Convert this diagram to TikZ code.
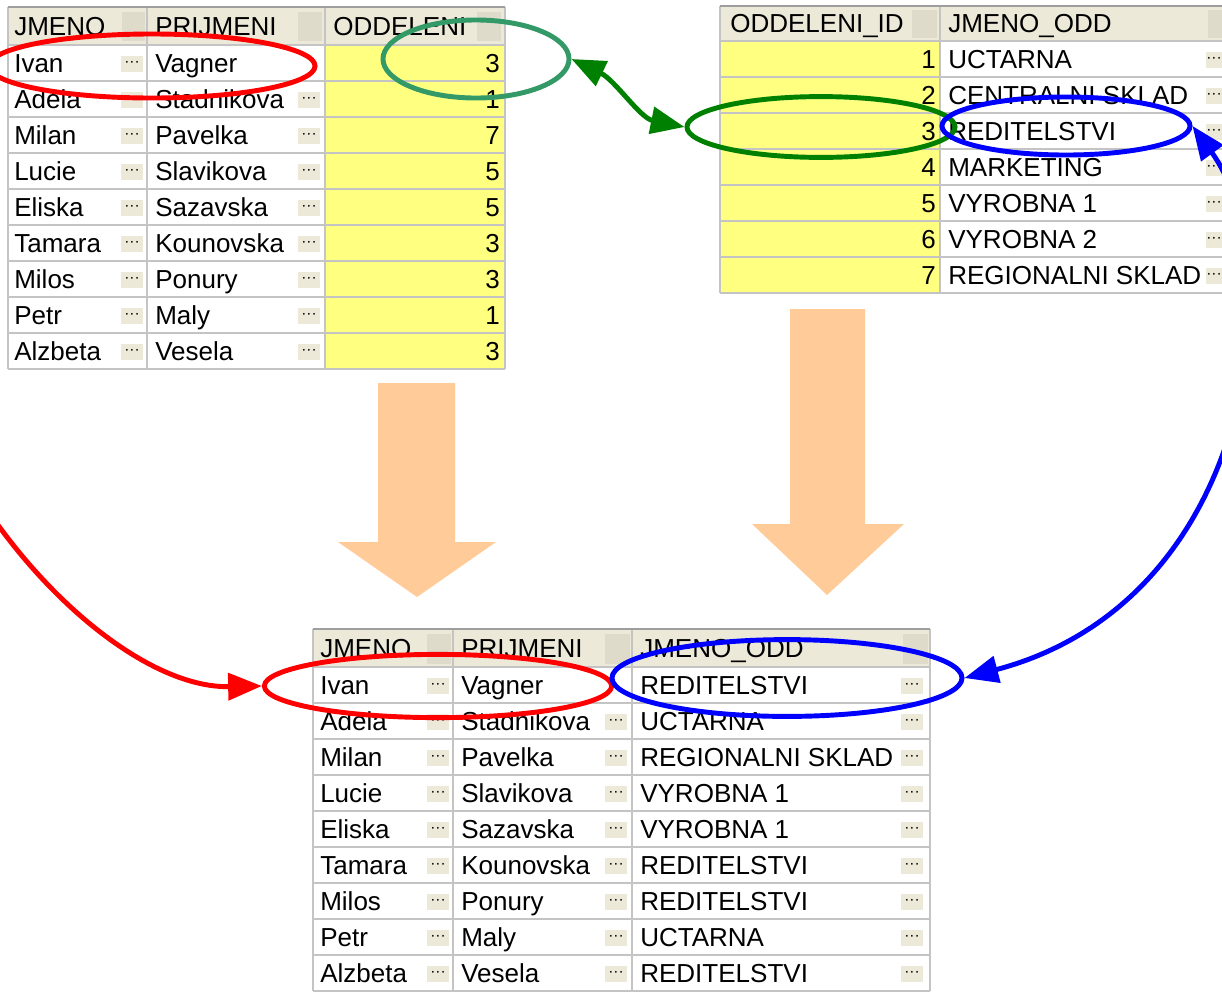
\documentclass[tikz,border=0pt]{standalone}
\usepackage{fontspec}
\setmainfont{Liberation Sans}
\usetikzlibrary{arrows.meta,shapes.geometric}

\definecolor{hlava}{HTML}{ECE9D8}
\definecolor{hlavatm}{HTML}{DEDBCB}
\definecolor{mrizka}{HTML}{C4C4C4}
\definecolor{hrana}{HTML}{9E9E9E}
\definecolor{zluta}{HTML}{FFFF80}
\definecolor{broskev}{HTML}{FFCC99}
\definecolor{cervena}{HTML}{FF0000}
\definecolor{modra}{HTML}{0000FF}
\definecolor{zelena}{HTML}{008000}
\definecolor{tyrkys}{HTML}{339966}

\tikzset{
  cell/.style={anchor=base west, inner sep=0pt, font=\fontsize{18.5}{20}\selectfont},
  num/.style={anchor=base east, inner sep=0pt, font=\fontsize{18.5}{20}\selectfont},
  btn/.style={fill=hlava, inner sep=0pt, minimum width=0.55cm, minimum height=0.42cm,
    font=\fontsize{11}{11}\selectfont},
  razeni/.style={fill=hlavatm},
  gridline/.style={draw=mrizka, line width=1pt},
  oval/.style={ellipse, draw, line width=3.5pt, inner sep=0pt},
  link/.style={line width=3.5pt}
}

\begin{document}
\begin{tikzpicture}[x=0.025cm, y=-0.025cm, >={Triangle[length=24pt,width=19pt]}]

    \useasboundingbox (0,0) rectangle (1222,994);
    \fill[white] (0,0) rectangle (1222,994);
    \clip (0,0) rectangle (1222,994);

    % Tabulka zamestnancu
    \fill[hlava] (8,7) rectangle (505,45);
    \fill[zluta] (325,45) rectangle (505,369);
    \fill[razeni] (122,12) rectangle (145,41);
    \fill[razeni] (298,12) rectangle (322,41);
    \fill[razeni] (477,12) rectangle (501,41);
    \foreach \y in {45,81,...,369} \draw[gridline] (8,\y) -- (505,\y);
    \foreach \x in {8,147,325,505} \draw[gridline] (\x,7) -- (\x,369);
    \draw[hrana, line width=1.5pt] (8,7) -- (505,7);
    \node[cell] (h1a) at (14,35.5) {JMENO};
    \node[cell] (h1b) at (155,35.5) {PRIJMENI};
    \node[cell] (h1c) at (333,35.5) {ODDELENI};
    \foreach \jm/\pr/\od [count=\i] in {Ivan/Vagner/3, Adela/Stadnikova/1, Milan/Pavelka/7,
        Lucie/Slavikova/5, Eliska/Sazavska/5, Tamara/Kounovska/3, Milos/Ponury/3,
        Petr/Maly/1, Alzbeta/Vesela/3} {
      \node[cell] (t1-\i-a) at (14,36.5+36*\i) {\jm};
      \node[cell] (t1-\i-b) at (155,36.5+36*\i) {\pr};
      \node[num] (t1-\i-c) at (500,36.5+36*\i) {\od};
      \node[btn] (t1-\i-ba) at (132,28+36*\i) {···};
      \ifnum\i>1 \node[btn] (t1-\i-bb) at (309,28+36*\i) {···}; \fi
    }

    % Tabulka oddeleni
    \fill[hlava] (720,6) rectangle (1240,41);
    \fill[zluta] (720,41) rectangle (940,293);
    \fill[razeni] (912,10) rectangle (937,38);
    \fill[razeni] (1208,10) rectangle (1240,38);
    \foreach \y in {41,77,...,293} \draw[gridline] (720,\y) -- (1240,\y);
    \foreach \x in {720,940} \draw[gridline] (\x,6) -- (\x,293);
    \draw[hrana, line width=1.5pt] (720,6) -- (1240,6);
    \node[cell] (h2a) at (730,32.5) {ODDELENI\_ID};
    \node[cell] (h2b) at (948,32.5) {JMENO\_ODD};
    \foreach \id/\odd in {1/UCTARNA, 2/CENTRALNI SKLAD, 3/REDITELSTVI, 4/MARKETING,
        5/VYROBNA 1, 6/VYROBNA 2, 7/REGIONALNI SKLAD} {
      \node[num] (t2-\id-a) at (936,32.5+36*\id) {\id};
      \node[cell] (t2-\id-b) at (948,32.5+36*\id) {\odd};
      \node[btn, minimum width=0.4cm] (t2-\id-bb) at (1214,24+36*\id) {···};
    }

    % Vysledek spojeni
    \fill[hlava] (313,629) rectangle (930,667);
    \fill[razeni] (427,634) rectangle (451,664);
    \fill[razeni] (605,634) rectangle (630,664);
    \fill[razeni] (903,634) rectangle (928,664);
    \foreach \y in {667,703,...,991} \draw[gridline] (313,\y) -- (930,\y);
    \foreach \x in {313,453,632,930} \draw[gridline] (\x,629) -- (\x,991);
    \draw[hrana, line width=1.5pt] (313,629) -- (930,629);
    \node[cell] (h3a) at (320,657.5) {JMENO};
    \node[cell] (h3b) at (461,657.5) {PRIJMENI};
    \node[cell] (h3c) at (640,657.5) {JMENO\_ODD};
    \foreach \jm/\pr/\odd [count=\i] in {Ivan/Vagner/REDITELSTVI, Adela/Stadnikova/UCTARNA,
        Milan/Pavelka/REGIONALNI SKLAD, Lucie/Slavikova/VYROBNA 1, Eliska/Sazavska/VYROBNA 1,
        Tamara/Kounovska/REDITELSTVI, Milos/Ponury/REDITELSTVI, Petr/Maly/UCTARNA,
        Alzbeta/Vesela/REDITELSTVI} {
      \node[cell] (t3-\i-a) at (320,658.5+36*\i) {\jm};
      \node[cell] (t3-\i-b) at (461,658.5+36*\i) {\pr};
      \node[cell] (t3-\i-c) at (640,658.5+36*\i) {\odd};
      \node[btn] (t3-\i-ba) at (438,650+36*\i) {···};
      \ifnum\i>1 \node[btn] (t3-\i-bb) at (616,650+36*\i) {···}; \fi
      \node[btn] (t3-\i-bc) at (912,650+36*\i) {···};
    }

    % Velke sipky
    \fill[broskev] (378,383) -- (455,383) -- (455,542) -- (496,542) -- (417,597)
      -- (338,542) -- (378,542) -- cycle;
    \fill[broskev] (790,309) -- (865,309) -- (865,524) -- (904,524) -- (827,595)
      -- (752,524) -- (790,524) -- cycle;

    % Oznaceni
    \node[oval, draw=cervena, minimum width=8.15cm, minimum height=1.6cm] (redTop) at (152,66) {};
    \node[oval, draw=tyrkys, minimum width=4.65cm, minimum height=1.95cm] (tealTop) at (476,59) {};
    \node[oval, draw=zelena, minimum width=6.7cm, minimum height=1.52cm] (greenR) at (821,127) {};
    \node[oval, draw=modra, minimum width=6.2cm, minimum height=1.45cm] (blueR) at (1066,126) {};
    \node[oval, draw=cervena, minimum width=8.68cm, minimum height=1.58cm] (redBot) at (438,686) {};
    \node[oval, draw=modra, minimum width=8.75cm, minimum height=1.92cm] (blueBot) at (787,678) {};

    % Spojnice
    \draw[link, zelena, <->] (tealTop.east) .. controls (615,80) and (640,118) .. (greenR.west);
    \draw[link, cervena, ->] (redTop.west) .. controls (-250,280) and (60,690) .. (redBot.west);
    \draw[link, modra, <->] (blueR.east) .. controls (1290,260) and (1260,600) .. (blueBot.east);

\end{tikzpicture}
\end{document}
